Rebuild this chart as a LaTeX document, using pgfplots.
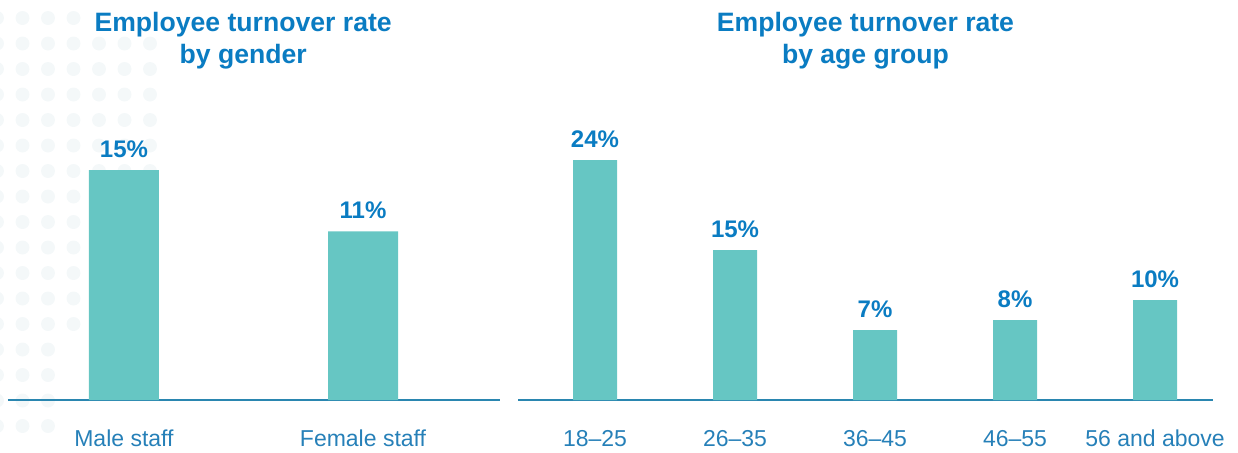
\documentclass[border=0pt]{standalone}
\usepackage{pgfplots}
\pgfplotsset{compat=1.18}
\usepackage{fontspec}
\setmainfont{Liberation Sans}
\definecolor{barteal}{HTML}{66C6C3}
\definecolor{titleblue}{HTML}{0A7CC2}
\definecolor{tickblue}{HTML}{2680B8}
\definecolor{axisblue}{HTML}{2A86B0}
\definecolor{dotgray}{HTML}{F4F8F9}

\pgfplotsset{
  turnover/.style={
    scale only axis,
    /pgf/number format/assume math mode=true,
    axis x line=bottom,
    axis y line=none,
    x axis line style={-, draw=axisblue, line width=1pt},
    ymin=0,
    major tick length=0pt,
    xtick=data,
    xticklabel style={anchor=base, yshift=-23pt, font=\fontsize{11.5}{13}\selectfont, text=tickblue},
    ybar,
    nodes near coords={\pgfmathprintnumber{\pgfplotspointmeta}\%},
    every node near coord/.append style={anchor=base, yshift=6.5pt, font=\bfseries\fontsize{12}{14}\selectfont, text=titleblue, inner sep=0pt},
    title style={anchor=north, font=\bfseries\fontsize{13.3}{16}\selectfont, text=titleblue, align=center, inner sep=0pt},
  }
}

\begin{document}
\begin{tikzpicture}
\path[use as bounding box] (0,0) rectangle (619pt,226pt);
% decorative background dots
\foreach \k/\n in {0/3,1/6,2/6,3/6,4/6,5/6,6/6,7/6,8/6,9/4,10/4,11/4,12/4,13/2,14/2,15/2,16/2}{
  \foreach \j in {0,...,\n}{
    \fill[dotgray] ({(-3+25.5*\j)*0.5pt},{(452-18-25.5*\k)*0.5pt}) circle (3.5pt);
  }
}
\begin{axis}[turnover,
  at={(4pt,26pt)}, anchor=south west,
  width=246pt, height=200pt,
  ymax=26.09, xmin=-0.485, xmax=1.573,
  bar width=35pt,
  xticklabels={Male staff, Female staff},
  title={Employee turnover rate\\by gender},
  title style={at={(rel axis cs:0.478,0.94)}},
]
\addplot[fill=barteal, draw=none] coordinates {(0,15) (1,11)};
\end{axis}
\begin{axis}[turnover,
  at={(259pt,26pt)}, anchor=south west,
  width=347.5pt, height=200pt,
  ymax=40, xmin=-0.55, xmax=4.414,
  bar width=22pt,
  xticklabels={18--25, 26--35, 36--45, 46--55, 56 and above},
  title={Employee turnover rate\\by age group},
  title style={at={(rel axis cs:0.5,0.94)}},
]
\addplot[fill=barteal, draw=none] coordinates {(0,24) (1,15) (2,7) (3,8) (4,10)};
\end{axis}
\end{tikzpicture}
\end{document}
